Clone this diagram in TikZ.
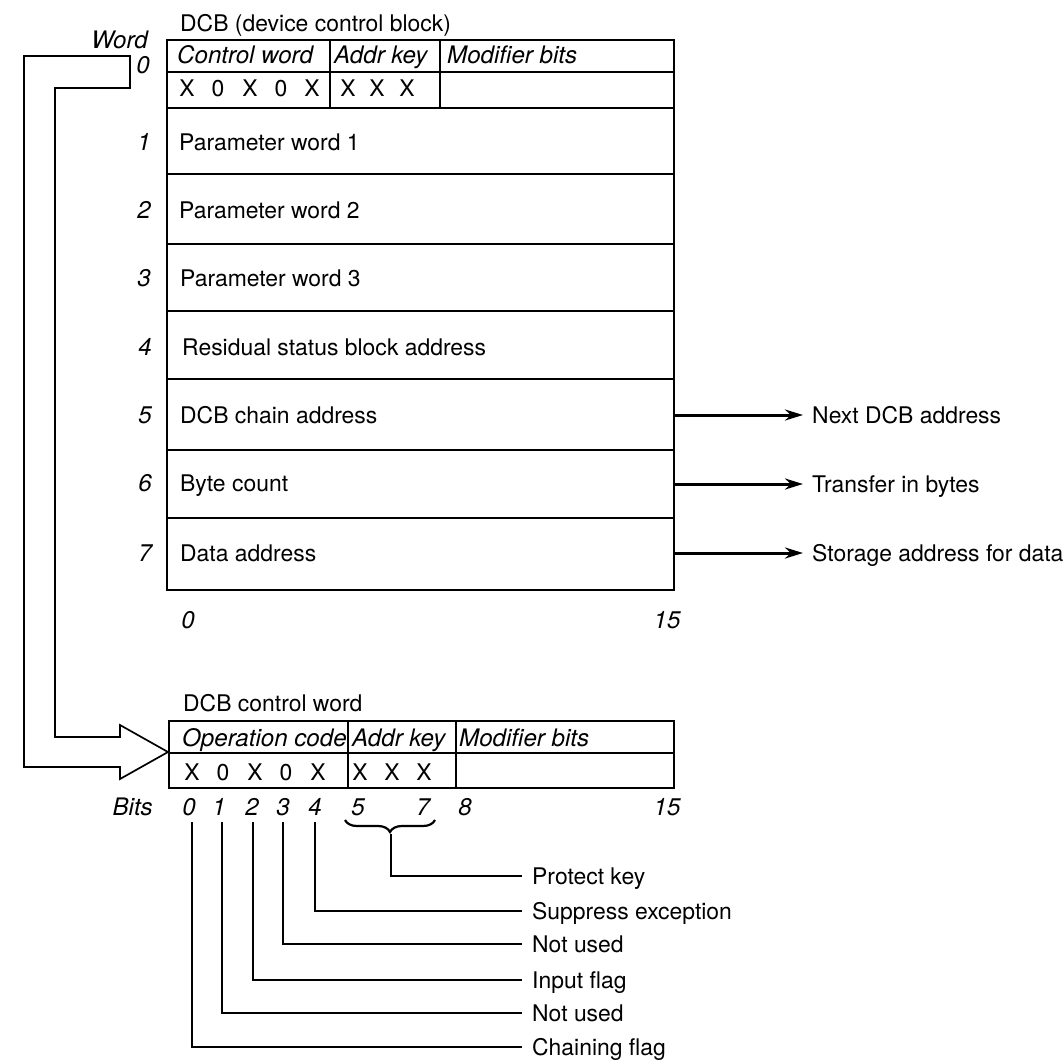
\documentclass[tikz,border=0pt]{standalone}
\usepackage{fontspec}
\setmainfont{TeX Gyre Heros}
\usetikzlibrary{arrows.meta,decorations.pathreplacing}
\begin{document}
\begin{tikzpicture}[x=1bp,y=-1bp,
  txt/.style={inner sep=0pt, anchor=west, text height=16bp, text depth=0pt, font=\fontsize{23}{27}\selectfont},
  itx/.style={txt, font=\fontsize{24.2}{28}\selectfont\itshape},
  num/.style={itx, anchor=center},
  xch/.style={txt, anchor=center},
  cell/.style={draw, line width=1.9bp, inner sep=0pt, anchor=north west},
  ln/.style={line width=1.9bp},
  arr/.style={line width=3bp, -{Stealth[length=18bp,width=11bp]}}
]
\useasboundingbox (0,0) rectangle (1064,1062);
\fill[white] (0,0) rectangle (1064,1062);

% ---------- top DCB block ----------
\node[txt] (title) at (180,23) {DCB (device control block)};
\node[itx, anchor=east] (wordlbl) at (148,40) {Word};
\node[num] (w0) at (143,65) {0};

\node[cell, minimum width=163bp, minimum height=32bp] (h1) at (166,39) {};
\node[cell, minimum width=110bp, minimum height=32bp] (h2) at (329,39) {};
\node[cell, minimum width=234bp, minimum height=32bp] (h3) at (439,39) {};
\node[cell, minimum width=163bp, minimum height=36bp] (x1) at (166,71) {};
\node[cell, minimum width=110bp, minimum height=36bp] (x2) at (329,71) {};
\node[cell, minimum width=234bp, minimum height=36bp] (x3) at (439,71) {};
\node[cell, minimum width=507bp, minimum height=66bp] (r1) at (166,107) {};
\node[cell, minimum width=507bp, minimum height=70bp] (r2) at (166,173) {};
\node[cell, minimum width=507bp, minimum height=67bp] (r3) at (166,243) {};
\node[cell, minimum width=507bp, minimum height=68bp] (r4) at (166,310) {};
\node[cell, minimum width=507bp, minimum height=71bp] (r5) at (166,378) {};
\node[cell, minimum width=507bp, minimum height=68bp] (r6) at (166,449) {};
\node[cell, minimum width=507bp, minimum height=72bp] (r7) at (166,517) {};

\node[itx] (hcw) at (177,55) {Control word};
\node[itx] (hak) at (334,55) {Addr key};
\node[itx] (hmb) at (447,55) {Modifier bits};

\node[xch] (tx0) at (187,88) {X};
\node[xch] (tx1) at (218,88) {0};
\node[xch] (tx2) at (250,88) {X};
\node[xch] (tx3) at (281,88) {0};
\node[xch] (tx4) at (312,88) {X};
\node[xch] (tx5) at (348,88) {X};
\node[xch] (tx6) at (377,88) {X};
\node[xch] (tx7) at (407,88) {X};

\node[num] (n1) at (144,142) {1};
\node[num] (n2) at (144,210) {2};
\node[num] (n3) at (144,278) {3};
\node[num] (n4) at (145,347) {4};
\node[num] (n5) at (145,415) {5};
\node[num] (n6) at (145,483) {6};
\node[num] (n7) at (145,553) {7};

\node[txt] (p1) at (179,142) {Parameter word 1};
\node[txt] (p2) at (179,210) {Parameter word 2};
\node[txt] (p3) at (180,278) {Parameter word 3};
\node[txt] (p4) at (182,347) {Residual status block address};
\node[txt] (p5) at (180,415) {DCB chain address};
\node[txt] (p6) at (180,483) {Byte count};
\node[txt] (p7) at (180,553) {Data address};

\node[txt] (nda) at (812,415) {Next DCB address};
\node[txt] (tib) at (812,484) {Transfer in bytes};
\node[txt] (sad) at (812,553) {Storage address for data};
\draw[arr] (r5.east |- nda.west) -- ([xshift=-9bp]nda.west);
\draw[arr] (r6.east |- tib.west) -- ([xshift=-9bp]tib.west);
\draw[arr] (r7.east |- sad.west) -- ([xshift=-9bp]sad.west);

\node[num] (z0) at (188,620) {0};
\node[num] (z15) at (667,620) {15};

% ---------- bottom control word ----------
\node[txt] (ctitle) at (183,703) {DCB control word};
\node[cell, minimum width=179bp, minimum height=32bp] (b1) at (168,720) {};
\node[cell, minimum width=108bp, minimum height=32bp] (b2) at (347,720) {};
\node[cell, minimum width=218bp, minimum height=32bp] (b3) at (455,720) {};
\node[cell, minimum width=179bp, minimum height=35bp] (y1) at (168,752) {};
\node[cell, minimum width=108bp, minimum height=35bp] (y2) at (347,752) {};
\node[cell, minimum width=218bp, minimum height=35bp] (y3) at (455,752) {};

\node[itx] (boc) at (182,738) {Operation code};
\node[itx] (bak) at (352,738) {Addr key};
\node[itx] (bmb) at (459,738) {Modifier bits};

\node[xch] (bx0) at (192,772) {X};
\node[xch] (bx1) at (223,772) {0};
\node[xch] (bx2) at (255,772) {X};
\node[xch] (bx3) at (286,772) {0};
\node[xch] (bx4) at (318,772) {X};
\node[xch] (bx5) at (360,772) {X};
\node[xch] (bx6) at (392,772) {X};
\node[xch] (bx7) at (424,772) {X};

\node[itx, anchor=east] (bits) at (153,807) {Bits};
\node[num] (d0) at (189,807) {0};
\node[num] (d1) at (219,807) {1};
\node[num] (d2) at (252,807) {2};
\node[num] (d3) at (283,807) {3};
\node[num] (d4) at (315,807) {4};
\node[num] (d5) at (358,807) {5};
\node[num] (d7) at (423,807) {7};
\node[num] (d8) at (465,807) {8};
\node[num] (d15) at (667,807) {15};

% brace over bits 5-7
\draw[line width=2.2bp, decorate, decoration={brace, mirror, amplitude=12bp}] (345,820) -- (435,820);

\node[txt] (lpk) at (532,876) {Protect key};
\node[txt] (lse) at (532,911) {Suppress exception};
\node[txt] (lnu3) at (532,944) {Not used};
\node[txt] (lif) at (532,980) {Input flag};
\node[txt] (lnu1) at (532,1013) {Not used};
\node[txt] (lcf) at (532,1047) {Chaining flag};

\coordinate (tb) at (391,834);
\coordinate (t4) at (315,822);
\coordinate (t3) at (283,822);
\coordinate (t2) at (253,822);
\coordinate (t1) at (222,822);
\coordinate (t0) at (192,822);
\draw[ln] (tb) |- ([xshift=-10bp]lpk.west);
\draw[ln] (t4) |- ([xshift=-10bp]lse.west);
\draw[ln] (t3) |- ([xshift=-10bp]lnu3.west);
\draw[ln] (t2) |- ([xshift=-10bp]lif.west);
\draw[ln] (t1) |- ([xshift=-10bp]lnu1.west);
\draw[ln] (t0) |- ([xshift=-10bp]lcf.west);

% ---------- hollow arrow from word 0 to the control word ----------
\draw[line width=1.7bp, line join=miter] (24,56) -- (130,56) -- (130,88) -- (55,88) -- (55,737)
  -- (120,737) -- (120,725) -- (168,752) -- (120,779) -- (120,767) -- (24,767) -- cycle;
\end{tikzpicture}
\end{document}
